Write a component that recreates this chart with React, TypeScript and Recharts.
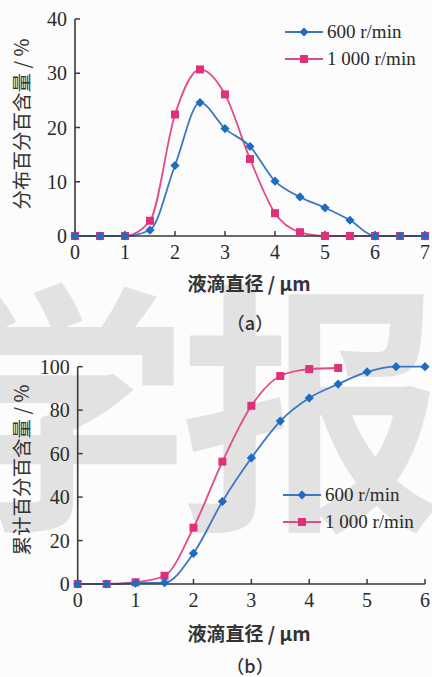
import React from 'react';
import { LineChart, Line, XAxis, YAxis } from 'recharts';

const diametersA = [0, 0.5, 1, 1.5, 2, 2.5, 3, 3.5, 4, 4.5, 5, 5.5, 6, 6.5, 7];
const dist600 = [0, 0, 0, 1.1, 13.0, 24.6, 19.8, 16.5, 10.1, 7.2, 5.2, 2.9, 0, 0, 0];
const dist1000 = [0, 0, 0, 2.8, 22.4, 30.7, 26.1, 14.2, 4.2, 0.7, 0, 0, 0, 0, 0];

const diametersB = [0, 0.5, 1, 1.5, 2, 2.5, 3, 3.5, 4, 4.5, 5, 5.5, 6];
const cum600 = [0, 0, 0.4, 0.6, 14.1, 38.0, 58.0, 75.0, 85.6, 92.0, 97.6, 100, 100];
const cum1000 = [0, 0, 0.8, 3.8, 25.9, 56.3, 82.0, 95.7, 98.9, 99.4, null, null, null];

const xTicksA = [0, 1, 2, 3, 4, 5, 6, 7];
const yTicksA = [0, 10, 20, 30, 40];
const xTicksB = [0, 1, 2, 3, 4, 5, 6];
const yTicksB = [0, 20, 40, 60, 80, 100];

const seriesNames = ['600 r/min', '1 000 r/min'];
const axisTitleA = '分布百分百含量 / %';
const axisTitleB = '累计百分百含量 / %';
const xTitle = '液滴直径 / μm';
const captions = ['（a）', '（b）'];
const watermark = '学报';

const dataA = diametersA.map((d, i) => ({ d, s600: dist600[i], s1000: dist1000[i] }));
const dataB = diametersB.map((d, i) => ({ d, s600: cum600[i], s1000: cum1000[i] }));

const BLUE_LINE = '#3b78c0';
const BLUE_DOT = '#1d6cc2';
const PINK_LINE = '#e4498a';
const PINK_DOT = '#e0307c';
const AXIS = '#3a3a3a';
const SERIF = '"Liberation Serif", "DejaVu Serif", serif';
const CJK = '"Noto Sans CJK SC", sans-serif';

const Diamond = (props: any) => {
  const { cx, cy } = props;
  if (cx == null || cy == null || props.value == null) return null;
  const r = 4.6;
  return <path d={`M${cx},${cy - r}L${cx + r},${cy}L${cx},${cy + r}L${cx - r},${cy}Z`} fill={BLUE_DOT} />;
};
const Square = (props: any) => {
  const { cx, cy } = props;
  if (cx == null || cy == null || props.value == null) return null;
  const s = 8;
  return <rect x={cx - s / 2} y={cy - s / 2} width={s} height={s} fill={PINK_DOT} />;
};

const tickStyle = { fontFamily: SERIF, fontSize: 20, fill: '#2a2a2a' };

const LegendBox = ({ left, top }: { left: number; top: number }) => (
  <div style={{ position: 'absolute', left, top, width: 150 }}>
    {seriesNames.map((n, i) => (
      <div key={n} style={{ display: 'flex', alignItems: 'center', height: 27 }}>
        <svg width={38} height={14} style={{ display: 'block' }}>
          <line x1={0} y1={7} x2={38} y2={7} stroke={i === 0 ? BLUE_LINE : PINK_LINE} strokeWidth={1.8} />
          {i === 0 ? (
            <path d="M19,2.5L23.5,7L19,11.5L14.5,7Z" fill={BLUE_DOT} />
          ) : (
            <rect x={15} y={3} width={8} height={8} fill={PINK_DOT} />
          )}
        </svg>
        <span style={{ fontFamily: SERIF, fontSize: 19, color: '#2a2a2a', marginLeft: 4, whiteSpace: 'pre' }}>{n}</span>
      </div>
    ))}
  </div>
);

const VTitle = ({ text, cx, cy }: { text: string; cx: number; cy: number }) => (
  <div
    style={{
      position: 'absolute',
      left: cx - 100,
      top: cy - 12,
      width: 200,
      height: 24,
      textAlign: 'center',
      transform: 'rotate(-90deg)',
      fontFamily: CJK,
      fontSize: 19.5,
      color: '#333',
      lineHeight: '24px',
      whiteSpace: 'nowrap',
    }}
  >
    {text}
  </div>
);

const CText = ({ text, cx, cy, size = 18, bold = false }: any) => (
  <div
    style={{
      position: 'absolute',
      left: cx - 100,
      top: cy - 12,
      width: 200,
      height: 24,
      textAlign: 'center',
      fontFamily: CJK,
      fontSize: size,
      fontWeight: bold ? 700 : 500,
      color: '#333',
      lineHeight: '24px',
      whiteSpace: 'nowrap',
    }}
  >
    {text}
  </div>
);

export default function App() {
  return (
    <div style={{ position: 'absolute', left: 0, top: 0, width: 432, height: 677, background: '#fcfcfc', overflow: 'hidden' }}>
      <div
        style={{
          position: 'absolute',
          left: -75,
          top: 262,
          fontFamily: CJK,
          fontWeight: 700,
          fontSize: 265,
          lineHeight: '265px',
          color: '#e2e2e2',
          whiteSpace: 'nowrap',
          letterSpacing: -10,
          pointerEvents: 'none',
        }}
      >
        {watermark}
      </div>

      <div style={{ position: 'absolute', left: 0, top: 0 }}>
        <LineChart width={432} height={300} data={dataA} margin={{ top: 19, right: 7, left: 0, bottom: 0 }}>
          <XAxis
            dataKey="d"
            type="number"
            domain={[0, 7]}
            ticks={xTicksA}
            height={64}
            tickSize={-5}
            tickMargin={14}
            tick={tickStyle}
            axisLine={{ stroke: AXIS, strokeWidth: 1.6 }}
            tickLine={{ stroke: AXIS, strokeWidth: 1.5 }}
          />
          <YAxis
            type="number"
            domain={[0, 40]}
            ticks={yTicksA}
            width={75}
            tickSize={-5}
            tickMargin={13}
            tick={tickStyle}
            axisLine={{ stroke: AXIS, strokeWidth: 1.6 }}
            tickLine={{ stroke: AXIS, strokeWidth: 1.5 }}
          />
          <Line dataKey="s1000" type="monotone" stroke={PINK_LINE} strokeWidth={1.8} dot={<Square />} activeDot={false} isAnimationActive={false} />
          <Line dataKey="s600" type="monotone" stroke={BLUE_LINE} strokeWidth={1.8} dot={<Diamond />} activeDot={false} isAnimationActive={false} />
        </LineChart>
      </div>

      <div style={{ position: 'absolute', left: 0, top: 340 }}>
        <LineChart width={432} height={300} data={dataB} margin={{ top: 26.7, right: 7, left: 0, bottom: 0 }}>
          <XAxis
            dataKey="d"
            type="number"
            domain={[0, 6]}
            ticks={xTicksB}
            height={56}
            tickSize={-5}
            tickMargin={14}
            tick={tickStyle}
            axisLine={{ stroke: AXIS, strokeWidth: 1.6 }}
            tickLine={{ stroke: AXIS, strokeWidth: 1.5 }}
          />
          <YAxis
            type="number"
            domain={[0, 100]}
            ticks={yTicksB}
            width={77.7}
            tickSize={-5}
            tickMargin={13}
            tick={tickStyle}
            axisLine={{ stroke: AXIS, strokeWidth: 1.6 }}
            tickLine={{ stroke: AXIS, strokeWidth: 1.5 }}
          />
          <Line dataKey="s1000" type="monotone" stroke={PINK_LINE} strokeWidth={1.8} dot={<Square />} activeDot={false} connectNulls={false} isAnimationActive={false} />
          <Line dataKey="s600" type="monotone" stroke={BLUE_LINE} strokeWidth={1.8} dot={<Diamond />} activeDot={false} isAnimationActive={false} />
        </LineChart>
      </div>

      <LegendBox left={285} top={18} />
      <LegendBox left={283} top={481} />

      <VTitle text={axisTitleA} cx={21} cy={124} />
      <VTitle text={axisTitleB} cx={21} cy={470} />

      <CText text={xTitle} cx={249} cy={283} size={19} bold />
      <CText text={captions[0]} cx={250} cy={322} />
      <CText text={xTitle} cx={249} cy={633} size={19} bold />
      <CText text={captions[1]} cx={250} cy={665} />
    </div>
  );
}
